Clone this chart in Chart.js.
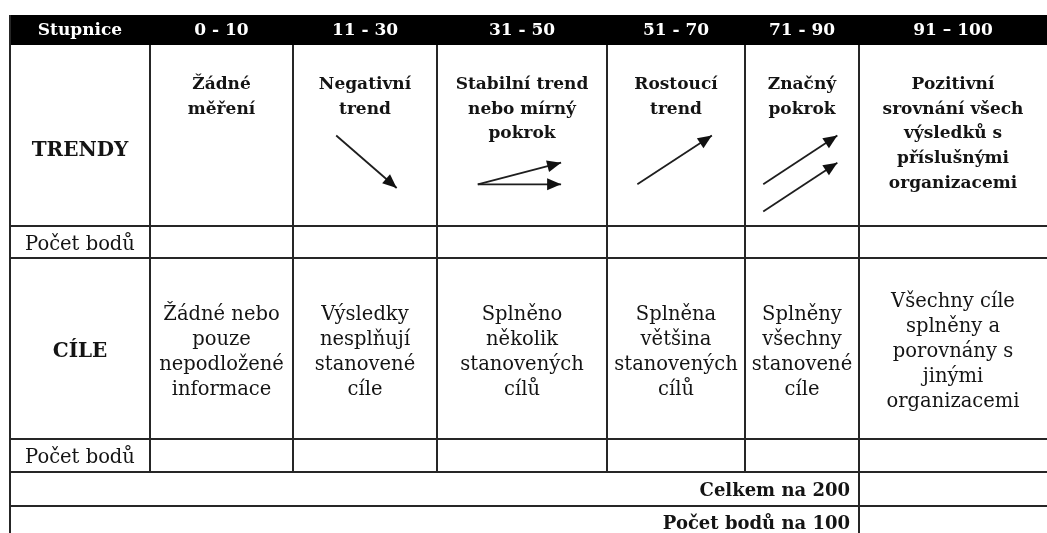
<!DOCTYPE html>
<html>
<head>
<meta charset="utf-8">
<script src="https://cdn.jsdelivr.net/npm/chart.js@4"></script>
<style>
  html, body { margin: 0; padding: 0; background: #fff; }
  canvas { display: block; }
</style>
</head>
<body>
<canvas id="scaleTable" width="1047" height="533"></canvas>
<script>
// header row: score bands
const bands = ['Stupnice', '0 - 10', '11 - 30', '31 - 50', '51 - 70', '71 - 90', '91 – 100'];
const rowLabels = ['TRENDY', 'Počet bodů', 'CÍLE', 'Počet bodů'];
const trendTexts = [
  ['Žádné', 'měření'],
  ['Negativní', 'trend'],
  ['Stabilní trend', 'nebo mírný', 'pokrok'],
  ['Rostoucí', 'trend'],
  ['Značný', 'pokrok'],
  ['Pozitivní', 'srovnání všech', 'výsledků s', 'příslušnými', 'organizacemi']
];
const goalTexts = [
  ['Žádné nebo', 'pouze', 'nepodložené', 'informace'],
  ['Výsledky', 'nesplňují', 'stanovené', 'cíle'],
  ['Splněno', 'několik', 'stanovených', 'cílů'],
  ['Splněna', 'většina', 'stanovených', 'cílů'],
  ['Splněny', 'všechny', 'stanovené', 'cíle'],
  ['Všechny cíle', 'splněny a', 'porovnány s', 'jinými', 'organizacemi']
];
const totals = ['Celkem na 200', 'Počet bodů na 100'];
// trend arrows per band: [x0, y0, x1, y1] as fractions of the cell
const trendArrows = [
  [],
  [[0.30, 0.50, 0.72, 0.79]],
  [[0.24, 0.77, 0.73, 0.65], [0.24, 0.77, 0.73, 0.77]],
  [[0.22, 0.77, 0.76, 0.50]],
  [[0.16, 0.77, 0.81, 0.50], [0.16, 0.92, 0.81, 0.65]],
  []
];

// table layout (canvas units)
const W = 1047, H = 533;
const colEdges = [10, 150, 293, 437, 607, 745, 859, 1047];
const rowEdges = [15, 45, 226, 258, 439, 472, 506, 545];

const boldFont = 'bold 17px "DejaVu Serif"';
const textColor = '#141414';
const lineColor = '#262626';

const arrowDatasets = [];
trendArrows.forEach((list, i) => {
  const c0 = colEdges[i + 1], c1 = colEdges[i + 2];
  const r0 = rowEdges[1], r1 = rowEdges[2];
  list.forEach(a => {
    arrowDatasets.push({
      data: [
        { x: c0 + a[0] * (c1 - c0), y: r0 + a[1] * (r1 - r0) },
        { x: c0 + a[2] * (c1 - c0), y: r0 + a[3] * (r1 - r0) }
      ],
      showLine: true,
      borderColor: '#1e1e1e',
      borderWidth: 1.8,
      pointRadius: 0,
      fill: false
    });
  });
});

const tablePlugin = {
  id: 'tablePlugin',
  beforeDatasetsDraw(chart) {
    const { ctx, scales: { x, y } } = chart;
    const px = v => x.getPixelForValue(v);
    const py = v => y.getPixelForValue(v);
    ctx.save();

    // header band
    ctx.fillStyle = '#000';
    ctx.fillRect(px(colEdges[0]), py(rowEdges[0]), px(W) - px(colEdges[0]), py(rowEdges[1]) - py(rowEdges[0]));
    ctx.font = boldFont;
    ctx.fillStyle = '#fff';
    ctx.textAlign = 'center';
    ctx.textBaseline = 'alphabetic';
    bands.forEach((b, i) => {
      ctx.fillText(b, (px(colEdges[i]) + px(colEdges[i + 1])) / 2, py(35));
    });

    // grid lines
    ctx.strokeStyle = lineColor;
    ctx.lineWidth = 2;
    const hLine = (yv, xa, xb) => {
      ctx.beginPath(); ctx.moveTo(px(xa), py(yv)); ctx.lineTo(px(xb), py(yv)); ctx.stroke();
    };
    const vLine = (xv, ya, yb) => {
      ctx.beginPath(); ctx.moveTo(px(xv), py(ya)); ctx.lineTo(px(xv), py(yb)); ctx.stroke();
    };
    for (let r = 2; r <= 6; r++) hLine(rowEdges[r], colEdges[0], W);
    vLine(colEdges[0], rowEdges[0], H);
    for (let c = 1; c <= 5; c++) vLine(colEdges[c], rowEdges[1], rowEdges[5]);
    vLine(colEdges[6], rowEdges[1], H);

    ctx.fillStyle = textColor;
    ctx.textAlign = 'center';
    const cx = i => (px(colEdges[i]) + px(colEdges[i + 1])) / 2;

    // row labels
    ctx.font = 'bold 20px "DejaVu Serif"';
    ctx.fillText(rowLabels[0], cx(0), py(156));
    ctx.fillText(rowLabels[2], cx(0), py(357));
    ctx.font = '19.5px "DejaVu Serif"';
    ctx.fillText(rowLabels[1], cx(0), py(250));
    ctx.fillText(rowLabels[3], cx(0), py(463));

    // trend descriptions (top aligned)
    ctx.font = boldFont;
    trendTexts.forEach((lines, i) => {
      lines.forEach((t, k) => ctx.fillText(t, cx(i + 1), py(89 + k * 24.7)));
    });

    // goal descriptions (vertically centred)
    ctx.font = '19.5px "DejaVu Serif"';
    const mid = (rowEdges[3] + rowEdges[4]) / 2;
    goalTexts.forEach((lines, i) => {
      const first = mid - (lines.length - 1) * 12.5 + 8.5;
      lines.forEach((t, k) => ctx.fillText(t, cx(i + 1), py(first + k * 25)));
    });

    // totals
    ctx.font = 'bold 18px "DejaVu Serif"';
    ctx.textAlign = 'right';
    ctx.fillText(totals[0], px(colEdges[6] - 9), py(496));
    ctx.fillText(totals[1], px(colEdges[6] - 9), py(529));
    ctx.restore();
  },
  afterDatasetsDraw(chart) {
    const { ctx } = chart;
    ctx.save();
    ctx.fillStyle = '#111';
    chart.data.datasets.forEach((ds, i) => {
      const pts = chart.getDatasetMeta(i).data;
      if (pts.length < 2) return;
      const a = pts[pts.length - 2], b = pts[pts.length - 1];
      const ang = Math.atan2(b.y - a.y, b.x - a.x);
      const len = 14, half = 6;
      ctx.save();
      ctx.translate(b.x, b.y);
      ctx.rotate(ang);
      ctx.beginPath();
      ctx.moveTo(0, 0);
      ctx.lineTo(-len, -half);
      ctx.lineTo(-len, half);
      ctx.closePath();
      ctx.fill();
      ctx.restore();
    });
    ctx.restore();
  }
};

new Chart(document.getElementById('scaleTable'), {
  type: 'scatter',
  data: { datasets: arrowDatasets },
  options: {
    responsive: false,
    animation: false,
    events: [],
    layout: { padding: 0 },
    plugins: { legend: { display: false }, tooltip: { enabled: false } },
    scales: {
      x: { type: 'linear', min: 0, max: W, display: false },
      y: { type: 'linear', min: 0, max: H, reverse: true, display: false }
    }
  },
  plugins: [tablePlugin]
});
</script>
</body>
</html>
